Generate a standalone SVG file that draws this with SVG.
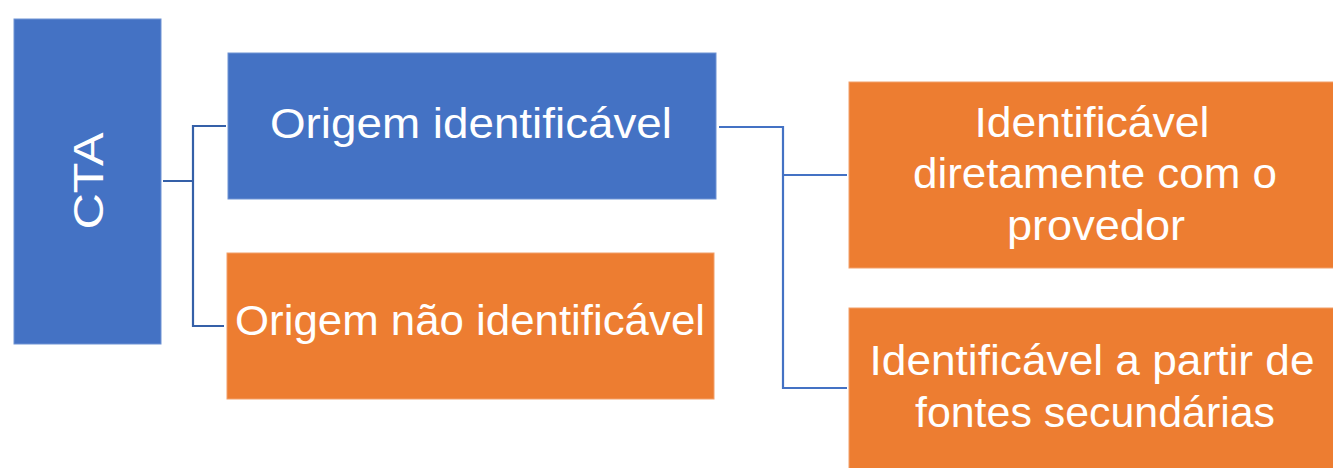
<svg xmlns="http://www.w3.org/2000/svg" width="1333" height="468" viewBox="0 0 1333 468">
  <style>
    .blue { fill: #4472C4; stroke: #6F93D4; stroke-width: 1; }
    .orange { fill: #ED7D31; stroke: #F2A06A; stroke-width: 1; }
    .lbl { font-family: "Liberation Sans", Arial, sans-serif; font-size: 42px; fill: #FFFFFF; }
    .conn { fill: none; stroke-width: 2.2; stroke-linejoin: miter; }
  </style>
  <rect width="1333" height="468" fill="#FFFFFF"/>

  <!-- connectors -->
  <g id="connectors">
    <path class="conn" stroke="#3560A8" d="M163 181 H193 M226 126 H193 V326 H224"/>
    <path class="conn" stroke="#4472C4" d="M719 127 H783 V388 H847 M783 175 H847"/>
  </g>

  <!-- root -->
  <g id="node-cta">
    <rect class="blue" x="14" y="19" width="147" height="325"/>
    <text class="lbl" font-size="53" transform="translate(103 181) rotate(-90)" text-anchor="middle" textLength="97" lengthAdjust="spacingAndGlyphs">CTA</text>
  </g>

  <!-- first level -->
  <g id="node-origem-identificavel">
    <rect class="blue" x="228" y="53" width="488" height="146"/>
    <text class="lbl" x="471" y="138" text-anchor="middle" textLength="402" lengthAdjust="spacingAndGlyphs">Origem identificável</text>
  </g>
  <g id="node-origem-nao-identificavel">
    <rect class="orange" x="227" y="253" width="487" height="146"/>
    <text class="lbl" x="470" y="335" text-anchor="middle" textLength="470" lengthAdjust="spacingAndGlyphs">Origem não identificável</text>
  </g>

  <!-- second level -->
  <g id="node-diretamente">
    <rect class="orange" x="849" y="82" width="490" height="186"/>
    <text class="lbl" x="1092" y="137" text-anchor="middle" textLength="235" lengthAdjust="spacingAndGlyphs">Identificável</text>
    <text class="lbl" x="1095" y="188" text-anchor="middle" textLength="364" lengthAdjust="spacingAndGlyphs">diretamente com o</text>
    <text class="lbl" x="1096" y="240" text-anchor="middle" textLength="178" lengthAdjust="spacingAndGlyphs">provedor</text>
  </g>
  <g id="node-fontes-secundarias">
    <rect class="orange" x="849" y="308" width="490" height="170"/>
    <text class="lbl" x="1092" y="375" text-anchor="middle" textLength="445" lengthAdjust="spacingAndGlyphs">Identificável a partir de</text>
    <text class="lbl" x="1095" y="427" text-anchor="middle" textLength="360" lengthAdjust="spacingAndGlyphs">fontes secundárias</text>
  </g>
</svg>
